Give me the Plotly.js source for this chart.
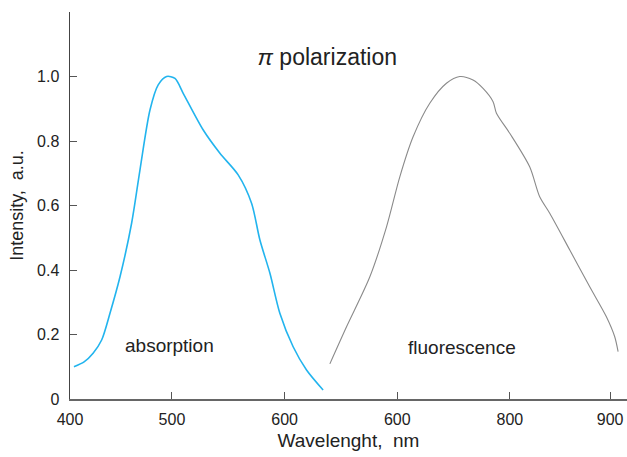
<!DOCTYPE html>
<html>
<head>
<meta charset="utf-8">
<script src="https://cdn.plot.ly/plotly-3.0.1.min.js"></script>
<style>html,body{margin:0;padding:0;background:#fff;}#chart{width:627px;height:457px;}</style>
</head>
<body>
<div id="chart"></div>
<script>
// Absorption spectrum (wavelength nm, intensity a.u.)
var absWavelength = [413, 422, 430, 437.6, 445, 453.9, 464.2, 471.6, 480.5, 487.8, 495.3, 502.7, 510, 527.8, 542.6, 558.8, 570.7, 578.1, 587, 595.8, 607.6, 619.5, 634.2];
var absIntensity  = [0.10, 0.115, 0.142, 0.183, 0.266, 0.379, 0.545, 0.71, 0.896, 0.974, 1.0, 0.994, 0.948, 0.834, 0.762, 0.695, 0.607, 0.493, 0.39, 0.266, 0.162, 0.09, 0.028];

// Fluorescence spectrum
var fluWavelength = [640.2, 655, 675.7, 690.5, 702.3, 714.1, 728.9, 743.7, 755.5, 767.3, 776.2, 785.1, 788.1, 799.9, 817.6, 826.5, 835.4, 853.2, 870.9, 885.7, 893.1, 896.1];
var fluIntensity  = [0.109, 0.224, 0.379, 0.534, 0.689, 0.813, 0.917, 0.979, 1.0, 0.989, 0.963, 0.922, 0.886, 0.824, 0.72, 0.627, 0.576, 0.462, 0.348, 0.255, 0.193, 0.147];

// Axis ticks (labels as printed in the original figure)
var xTickVals = [409.5, 500, 600, 700, 800, 889];
var xTickText = ["400", "500", "600", "600", "800", "900"];
var yTickVals = [0, 0.2, 0.4, 0.6, 0.8, 1.0];
var yTickText = ["0", "0.2", "0.4", "0.6", "0.8", "1.0"];

var FONT = "Liberation Sans, Arial, Helvetica, sans-serif";

var traces = [
  {x: absWavelength, y: absIntensity, type: "scatter", mode: "lines", name: "absorption",
   line: {color: "#22b4ee", width: 1.6, shape: "spline", smoothing: 0.8}, hoverinfo: "x+y"},
  {x: fluWavelength, y: fluIntensity, type: "scatter", mode: "lines", name: "fluorescence",
   line: {color: "#8a8a8a", width: 1.1, shape: "spline", smoothing: 0.8}, hoverinfo: "x+y"}
];

var layout = {
  width: 627, height: 457,
  margin: {l: 70, r: 0, t: 12, b: 58},
  paper_bgcolor: "#fff", plot_bgcolor: "#fff",
  showlegend: false,
  font: {family: FONT, size: 16, color: "#222"},
  title: {text: "<i>π</i> polarization", font: {family: FONT, size: 23, color: "#222"},
          x: 0.522, xref: "container", xanchor: "center",
          y: 0.875, yref: "container", yanchor: "middle"},
  xaxis: {
    range: [409.5, 904], showgrid: false, zeroline: false,
    showline: true, linecolor: "#666", linewidth: 2,
    ticks: "inside", ticklen: 7, tickwidth: 1, tickcolor: "#555",
    tickmode: "array", tickvals: xTickVals, ticktext: xTickText,
    tickfont: {family: FONT, size: 16, color: "#222"},
    ticklabelstandoff: 5,
    title: {text: "Wavelenght,  nm", font: {family: FONT, size: 19, color: "#222"}, standoff: 6}
  },
  yaxis: {
    range: [0, 1.2], showgrid: false, zeroline: false,
    showline: true, linecolor: "#444", linewidth: 1.5,
    ticks: "inside", ticklen: 7, tickwidth: 1, tickcolor: "#555",
    tickmode: "array", tickvals: yTickVals, ticktext: yTickText,
    tickfont: {family: FONT, size: 16, color: "#222"},
    ticklabelstandoff: 6,
    title: {text: "Intensity,  a.u.", font: {family: FONT, size: 18, color: "#222"}, standoff: 8}
  },
  annotations: [
    {text: "absorption", x: 0.178, y: 0.137, xref: "paper", yref: "paper", showarrow: false,
     font: {family: FONT, size: 19, color: "#222"}, xanchor: "center", yanchor: "middle"},
    {text: "fluorescence", x: 0.704, y: 0.132, xref: "paper", yref: "paper", showarrow: false,
     font: {family: FONT, size: 19, color: "#222"}, xanchor: "center", yanchor: "middle"}
  ]
};

Plotly.newPlot("chart", traces, layout, {displayModeBar: false, staticPlot: true});
</script>
</body>
</html>
